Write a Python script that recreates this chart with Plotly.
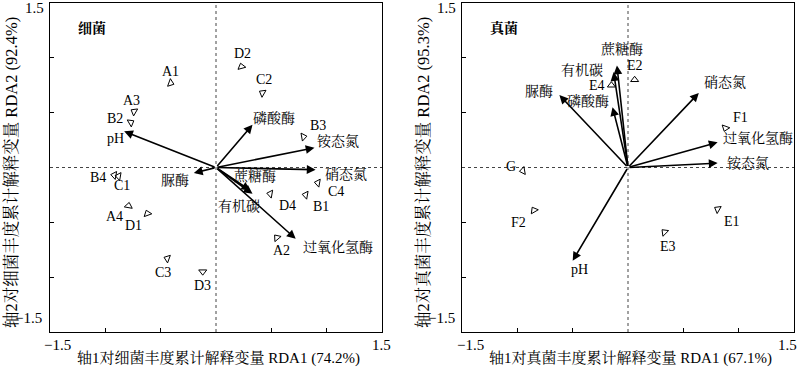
import plotly.graph_objects as go
from plotly.subplots import make_subplots

# ---------------- data ----------------
# Bacteria panel (left)
bac_sites = ["A1", "D2", "C2", "A3", "B2", "B3", "B4", "C1", "A4", "D1",
             "C3", "D3", "A2", "D4", "B1", "C4"]
bac_site_x = [-0.41, 0.23, 0.42, -0.74, -0.77, 0.79, -0.92, -0.88, -0.79, -0.62,
              -0.44, -0.12, 0.55, 0.49, 0.81, 0.92]
bac_site_y = [0.77, 0.92, 0.68, 0.51, 0.41, 0.28, -0.07, -0.08, -0.35, -0.42,
              -0.83, -0.95, -0.64, -0.24, -0.25, -0.14]

bac_vars = ["pH", "磷酸酶", "铵态氮", "硝态氮", "脲酶", "蔗糖酶", "有机碳", "过氧化氢酶"]
bac_var_x = [-0.83, 0.33, 0.89, 0.90, -0.20, 0.31, 0.33, 0.72]
bac_var_y = [0.33, 0.39, 0.18, -0.02, -0.05, -0.21, -0.24, -0.65]

# Fungi panel (right)
fun_sites = ["E2", "E4", "F1", "G", "F2", "E1", "E3"]
fun_site_x = [0.06, -0.15, 0.88, -0.95, -0.85, 0.81, 0.33]
fun_site_y = [0.80, 0.75, 0.36, -0.03, -0.39, -0.38, -0.59]

fun_vars = ["蔗糖酶", "有机碳", "磷酸酶", "脲酶", "硝态氮", "过氧化氢酶", "铵态氮", "pH"]
fun_var_x = [-0.10, -0.13, -0.14, -0.62, 0.64, 0.81, 0.81, -0.50]
fun_var_y = [0.93, 0.87, 0.55, 0.66, 0.68, 0.23, 0.04, -0.85]

panel_titles = ["细菌", "真菌"]
x_titles = ["轴1对细菌丰度累计解释变量 RDA1 (74.2%)", "轴1对真菌丰度累计解释变量 RDA1 (67.1%)"]
y_titles = ["轴2对细菌丰度累计解释变量 RDA2 (92.4%)", "轴2对真菌丰度累计解释变量 RDA2 (95.3%)"]

# ---------------- styles (offsets in px: dx right, dy down) ----------------
bac_site_angle = [110, -15, -60, -60, 60, 80, -80, -80, 10, -20, -70, 180, -40, -80, -80, -80]
bac_site_off = [(0, -12), (1, -13), (2, -13), (-3, -11), (-16, -4), (15, -11), (-16, 2), (3, 9),
                (-14, 11), (-14, 12), (-4, 14), (0, 14), (5, 13), (17, 12), (15, 12), (18, 9)]
bac_var_off = [(-9, 7), (21, -7), (24, -6), (30, 4), (-19, 8), (5, -15), (-14, 12), (42, 9)]

fun_site_angle = [0, 0, 200, -100, -30, -60, -45]
fun_site_off = [(0, -14), (-14, 0), (15, -11), (-12, -4), (-15, 12), (14, 12), (3, 14)]
fun_var_off = [(5, -17), (-32, -2), (-25, -6), (-20, -4), (26, -11), (40, -4), (30, 0), (7, 9)]

FONT = "Liberation Serif, Noto Serif CJK SC, Noto Sans CJK SC, serif"
W, H = 800, 368
dom_x = [[50 / W, 382 / W], [462 / W, 794 / W]]
dom_y = [1 - 332 / H, 1 - 3 / H]

fig = make_subplots(rows=1, cols=2)
annotations = []
shapes = []

panels = [
    (bac_sites, bac_site_x, bac_site_y, bac_site_angle, bac_site_off,
     bac_vars, bac_var_x, bac_var_y, bac_var_off),
    (fun_sites, fun_site_x, fun_site_y, fun_site_angle, fun_site_off,
     fun_vars, fun_var_x, fun_var_y, fun_var_off),
]

for i, (sites, sx, sy, ang, soff, vars_, vx, vy, voff) in enumerate(panels):
    xa = "x" if i == 0 else "x2"
    ya = "y" if i == 0 else "y2"
    shapes.append(dict(type="line", xref=xa, yref=ya, x0=0, x1=0, y0=-1.5, y1=1.5,
                       line=dict(color="#444", width=1, dash="dot"), layer="below"))
    shapes.append(dict(type="line", xref=xa, yref=ya, x0=-1.5, x1=1.5, y0=0, y1=0,
                       line=dict(color="#444", width=1, dash="dot"), layer="below"))
    fig.add_trace(go.Scatter(
        x=sx, y=sy, mode="markers", showlegend=False,
        marker=dict(symbol="triangle-up-open", size=7, color="black",
                    angle=ang, line=dict(width=1, color="black")),
        hoverinfo="text", text=sites), row=1, col=i + 1)
    for name, x, y, (dx, dy) in zip(sites, sx, sy, soff):
        annotations.append(dict(x=x, y=y, xref=xa, yref=ya, text=name, showarrow=False,
                                xshift=dx, yshift=-dy, xanchor="center", yanchor="middle",
                                font=dict(family=FONT, size=14, color="black")))
    for name, x, y, (dx, dy) in zip(vars_, vx, vy, voff):
        annotations.append(dict(x=x, y=y, ax=0, ay=0, xref=xa, yref=ya, axref=xa, ayref=ya,
                                text="", showarrow=True, arrowhead=2, arrowsize=1.1,
                                arrowwidth=1.6, arrowcolor="black", standoff=0))
        annotations.append(dict(x=x, y=y, xref=xa, yref=ya, text=name, showarrow=False,
                                xshift=dx, yshift=-dy, xanchor="center", yanchor="middle",
                                font=dict(family=FONT, size=14, color="black")))

    fig.update_xaxes(domain=dom_x[i], row=1, col=i + 1)
    fig.update_yaxes(domain=dom_y, row=1, col=i + 1)

    left_px = 50 if i == 0 else 462
    annotations.append(dict(xref="paper", yref="paper", x=(left_px + 42) / W, y=1 - 28 / H,
                            text="<b>" + panel_titles[i] + "</b>", showarrow=False,
                            xanchor="center", yanchor="middle",
                            font=dict(family=FONT, size=14, color="black")))
    cx = left_px + 166
    right_lbl = left_px + (331 if i == 0 else 325)
    for txt, px, py in [("1.5", left_px - 16, 8), ("−1.5", left_px - 21, 318),
                        ("−1.5", left_px + 8, 345), ("1.5", right_lbl, 345)]:
        annotations.append(dict(xref="paper", yref="paper", x=px / W, y=1 - py / H,
                                text=txt, showarrow=False, xanchor="center", yanchor="middle",
                                font=dict(family=FONT, size=15, color="black")))
    annotations.append(dict(xref="paper", yref="paper", x=(cx + 2) / W, y=1 - 358 / H,
                            text=x_titles[i], showarrow=False, xanchor="center", yanchor="middle",
                            font=dict(family=FONT, size=15, color="black")))
    annotations.append(dict(xref="paper", yref="paper", x=(left_px - 38) / W, y=1 - 173 / H,
                            text=y_titles[i], showarrow=False, textangle=-90,
                            xanchor="center", yanchor="middle",
                            font=dict(family=FONT, size=16.5, color="black")))

axis_common = dict(range=[-1.5, 1.5], showgrid=False, zeroline=False,
                   showline=True, linecolor="black", linewidth=1, mirror=True,
                   ticks="inside", ticklen=4, tickcolor="black", tickwidth=1,
                   tickvals=[-1, -0.5, 0.5, 1], showticklabels=False, fixedrange=True)
fig.update_xaxes(**axis_common)
fig.update_yaxes(**axis_common)

fig.update_layout(width=W, height=H, margin=dict(l=0, r=0, t=0, b=0, pad=0),
                  plot_bgcolor="white", paper_bgcolor="white",
                  annotations=annotations, shapes=shapes,
                  font=dict(family=FONT, size=14, color="black"))

fig.write_html("out.html", config={"displayModeBar": False},
               post_script="document.body.style.margin='0';")
